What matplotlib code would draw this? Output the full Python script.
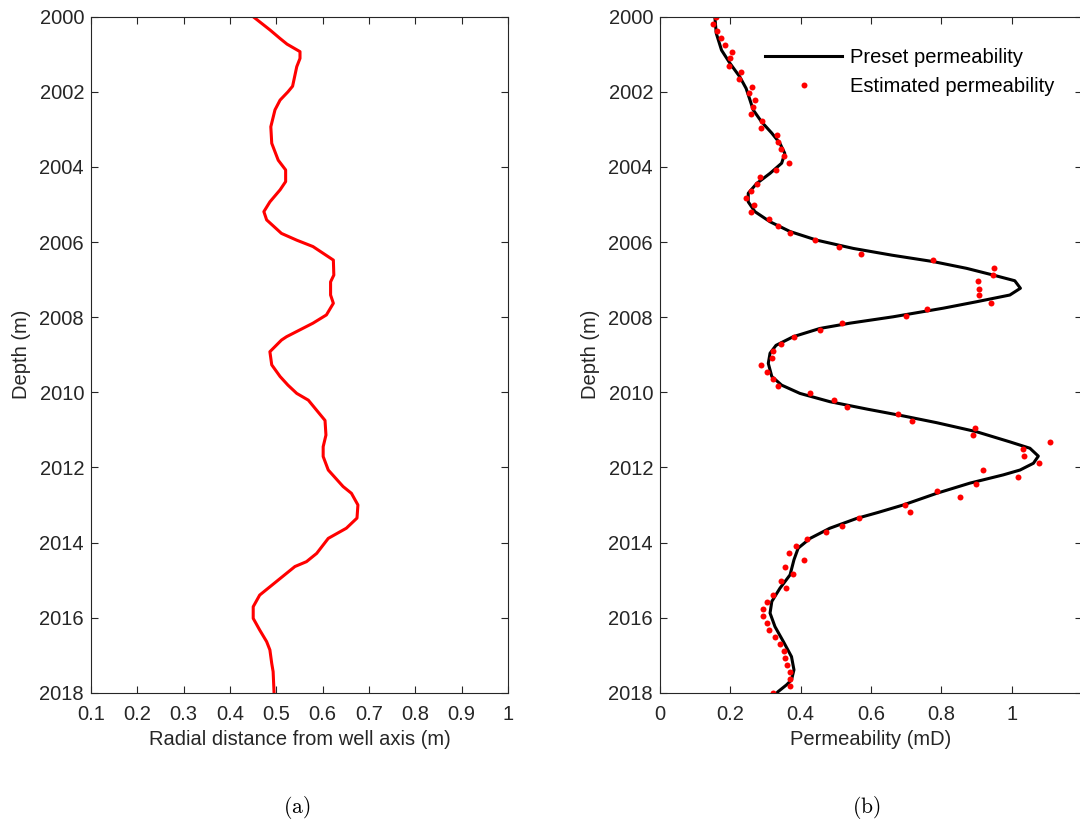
import numpy as np
import matplotlib
matplotlib.use("Agg")
import matplotlib.pyplot as plt
from matplotlib.ticker import FormatStrFormatter

plt.rcParams['font.family'] = ['Liberation Sans', 'DejaVu Sans']
plt.rcParams['mathtext.fontset'] = 'cm'

# (a) radial distance of the front vs depth
radial_depth = [2000.00, 2000.35, 2000.58, 2000.73, 2000.93, 2001.11, 2001.33, 2001.85,
                2002.00, 2002.22, 2002.48, 2002.93, 2003.37, 2003.82, 2004.08, 2004.39,
                2004.61, 2004.93, 2005.19, 2005.41, 2005.77, 2005.95, 2006.12, 2006.48,
                2006.88, 2007.06, 2007.41, 2007.63, 2007.94, 2008.16, 2008.52, 2008.61,
                2008.92, 2009.27, 2009.58, 2009.81, 2010.03, 2010.21, 2010.48, 2010.75,
                2011.14, 2011.45, 2011.71, 2012.07, 2012.51, 2012.69, 2013.00, 2013.35,
                2013.62, 2013.89, 2014.29, 2014.51, 2014.64, 2015.04, 2015.40, 2015.71,
                2016.02, 2016.33, 2016.64, 2016.86, 2017.22, 2017.44, 2018.00]
radial_dist = [0.450, 0.486, 0.508, 0.523, 0.551, 0.551, 0.544, 0.535,
               0.525, 0.508, 0.497, 0.488, 0.490, 0.504, 0.520, 0.520,
               0.508, 0.486, 0.473, 0.479, 0.511, 0.544, 0.579, 0.623,
               0.624, 0.617, 0.617, 0.623, 0.608, 0.579, 0.522, 0.511,
               0.486, 0.490, 0.508, 0.525, 0.544, 0.569, 0.587, 0.605,
               0.607, 0.601, 0.601, 0.612, 0.644, 0.662, 0.676, 0.674,
               0.651, 0.612, 0.587, 0.565, 0.540, 0.500, 0.464, 0.450,
               0.450, 0.464, 0.479, 0.486, 0.490, 0.493, 0.495]

# (b) preset permeability profile
preset_depth = [2000.00, 2000.44, 2000.89, 2001.24, 2001.60, 2001.91, 2002.22, 2002.48,
                2002.80, 2003.10, 2003.37, 2003.64, 2003.90, 2004.17, 2004.44, 2004.70,
                2004.93, 2005.19, 2005.46, 2005.72, 2005.95, 2006.17, 2006.35, 2006.52,
                2006.70, 2006.88, 2007.03, 2007.23, 2007.41, 2007.59, 2007.76, 2007.99,
                2008.16, 2008.30, 2008.52, 2008.75, 2008.96, 2009.23, 2009.58, 2009.81,
                2010.03, 2010.25, 2010.45, 2010.63, 2010.81, 2011.05, 2011.32, 2011.49,
                2011.70, 2011.89, 2012.07, 2012.20, 2012.42, 2012.69, 2013.00, 2013.20,
                2013.36, 2013.62, 2013.89, 2014.15, 2014.46, 2014.86, 2015.22, 2015.57,
                2015.88, 2016.24, 2016.64, 2017.04, 2017.39, 2017.66, 2017.79, 2017.97,
                2018.00]
preset_perm = [0.156, 0.160, 0.175, 0.199, 0.227, 0.245, 0.256, 0.265,
               0.289, 0.318, 0.341, 0.355, 0.346, 0.313, 0.275, 0.251,
               0.251, 0.270, 0.313, 0.370, 0.446, 0.550, 0.660, 0.777,
               0.872, 0.948, 1.009, 1.025, 0.995, 0.900, 0.806, 0.663,
               0.540, 0.455, 0.379, 0.330, 0.313, 0.308, 0.318, 0.346,
               0.398, 0.483, 0.590, 0.692, 0.787, 0.900, 0.995, 1.052,
               1.076, 1.062, 1.024, 0.976, 0.881, 0.787, 0.692, 0.620,
               0.559, 0.483, 0.427, 0.393, 0.381, 0.370, 0.341, 0.318,
               0.313, 0.327, 0.351, 0.374, 0.381, 0.374, 0.360, 0.336,
               0.333]

# (b) estimated permeability samples
est_depth = [2000.00, 2000.19, 2000.37, 2000.56, 2000.74, 2000.93, 2001.11, 2001.30,
             2001.48, 2001.67, 2001.86, 2002.04, 2002.23, 2002.41, 2002.60, 2002.78,
             2002.97, 2003.15, 2003.34, 2003.53, 2003.71, 2003.90, 2004.08, 2004.27,
             2004.45, 2004.64, 2004.82, 2005.01, 2005.20, 2005.38, 2005.57, 2005.75,
             2005.94, 2006.12, 2006.31, 2006.49, 2006.68, 2006.87, 2007.05, 2007.24,
             2007.42, 2007.61, 2007.79, 2007.98, 2008.16, 2008.35, 2008.54, 2008.72,
             2008.91, 2009.09, 2009.28, 2009.46, 2009.65, 2009.84, 2010.02, 2010.21,
             2010.39, 2010.58, 2010.76, 2010.95, 2011.13, 2011.32, 2011.51, 2011.69,
             2011.88, 2012.06, 2012.25, 2012.43, 2012.62, 2012.80, 2012.99, 2013.18,
             2013.36, 2013.55, 2013.73, 2013.92, 2014.10, 2014.29, 2014.47, 2014.66,
             2014.85, 2015.03, 2015.22, 2015.40, 2015.59, 2015.77, 2015.96, 2016.14,
             2016.33, 2016.52, 2016.70, 2016.89, 2017.07, 2017.26, 2017.44, 2017.63,
             2017.81, 2018.00]
est_perm = [0.159, 0.150, 0.163, 0.173, 0.185, 0.204, 0.199, 0.196,
            0.229, 0.225, 0.261, 0.252, 0.270, 0.265, 0.259, 0.291,
            0.288, 0.332, 0.337, 0.345, 0.353, 0.367, 0.330, 0.285,
            0.275, 0.260, 0.244, 0.267, 0.259, 0.309, 0.337, 0.370,
            0.440, 0.510, 0.572, 0.777, 0.951, 0.946, 0.905, 0.907,
            0.907, 0.941, 0.760, 0.699, 0.519, 0.455, 0.382, 0.344,
            0.322, 0.318, 0.287, 0.303, 0.322, 0.336, 0.427, 0.495,
            0.531, 0.678, 0.716, 0.896, 0.889, 1.109, 1.033, 1.035,
            1.077, 0.920, 1.019, 0.898, 0.787, 0.853, 0.698, 0.711,
            0.565, 0.518, 0.472, 0.417, 0.387, 0.368, 0.409, 0.355,
            0.377, 0.345, 0.358, 0.322, 0.305, 0.292, 0.294, 0.303,
            0.311, 0.327, 0.341, 0.353, 0.355, 0.362, 0.370, 0.370,
            0.370, 0.322]

depth_ticks = [2000, 2002, 2004, 2006, 2008, 2010, 2012, 2014, 2016, 2018]
radial_ticks = [0.1, 0.2, 0.3, 0.4, 0.5, 0.6, 0.7, 0.8, 0.9, 1]
perm_ticks = [0, 0.2, 0.4, 0.6, 0.8, 1]

axis_col = '#262626'
fs = 14.5


def style_axes(ax, ylab_x):
    for s in ax.spines.values():
        s.set_color(axis_col)
        s.set_linewidth(0.8)
    ax.tick_params(direction='in', top=True, right=True, length=5, width=0.8,
                   color=axis_col, labelcolor=axis_col, labelsize=fs)
    ax.tick_params(axis='y', pad=5)
    ax.tick_params(axis='x', pad=8.5)
    ax.set_ylim(2018, 2000)
    ax.set_yticks(depth_ticks)
    ax.xaxis.set_major_formatter(FormatStrFormatter('%g'))
    ax.set_ylabel('Depth (m)', fontsize=fs, color=axis_col)
    ax.yaxis.set_label_coords(ylab_x, 0.5)


fig = plt.figure(figsize=(10.8, 8.32), dpi=100)

ax1 = fig.add_axes([0.0843, 0.1674, 0.3861, 0.8125])
ax1.plot(radial_dist, radial_depth, color='red', lw=2.2)
ax1.set_xlim(0.1, 1)
ax1.set_xticks(radial_ticks)
style_axes(ax1, -0.145)
ax1.set_xlabel('Radial distance from well axis (m)', fontsize=fs, color=axis_col, labelpad=5)

ax2 = fig.add_axes([0.6111, 0.1674, 0.3907, 0.8125])
ax2.plot(preset_perm, preset_depth, color='black', lw=2.2, label='Preset permeability')
ax2.plot(est_perm, est_depth, 'o', color='red', ms=4.3, mew=0, label='Estimated permeability')
ax2.set_xlim(0, 1.2)
ax2.set_xticks(perm_ticks)
style_axes(ax2, -0.142)
ax2.set_xlabel('Permeability (mD)', fontsize=fs, color=axis_col, labelpad=5)
leg = ax2.legend(loc='upper left', bbox_to_anchor=(0.25, 0.953), frameon=False,
                 fontsize=fs, handlelength=3.8, handletextpad=0.4,
                 labelspacing=0.45, borderpad=0, borderaxespad=0)
for t in leg.get_texts():
    t.set_color('black')

fig.text(0.275, 0.029, r'$\mathrm{(a)}$', fontsize=15.5, ha='center', va='center')
fig.text(0.802, 0.029, r'$\mathrm{(b)}$', fontsize=15.5, ha='center', va='center')

fig.savefig('out.png', dpi=100)
